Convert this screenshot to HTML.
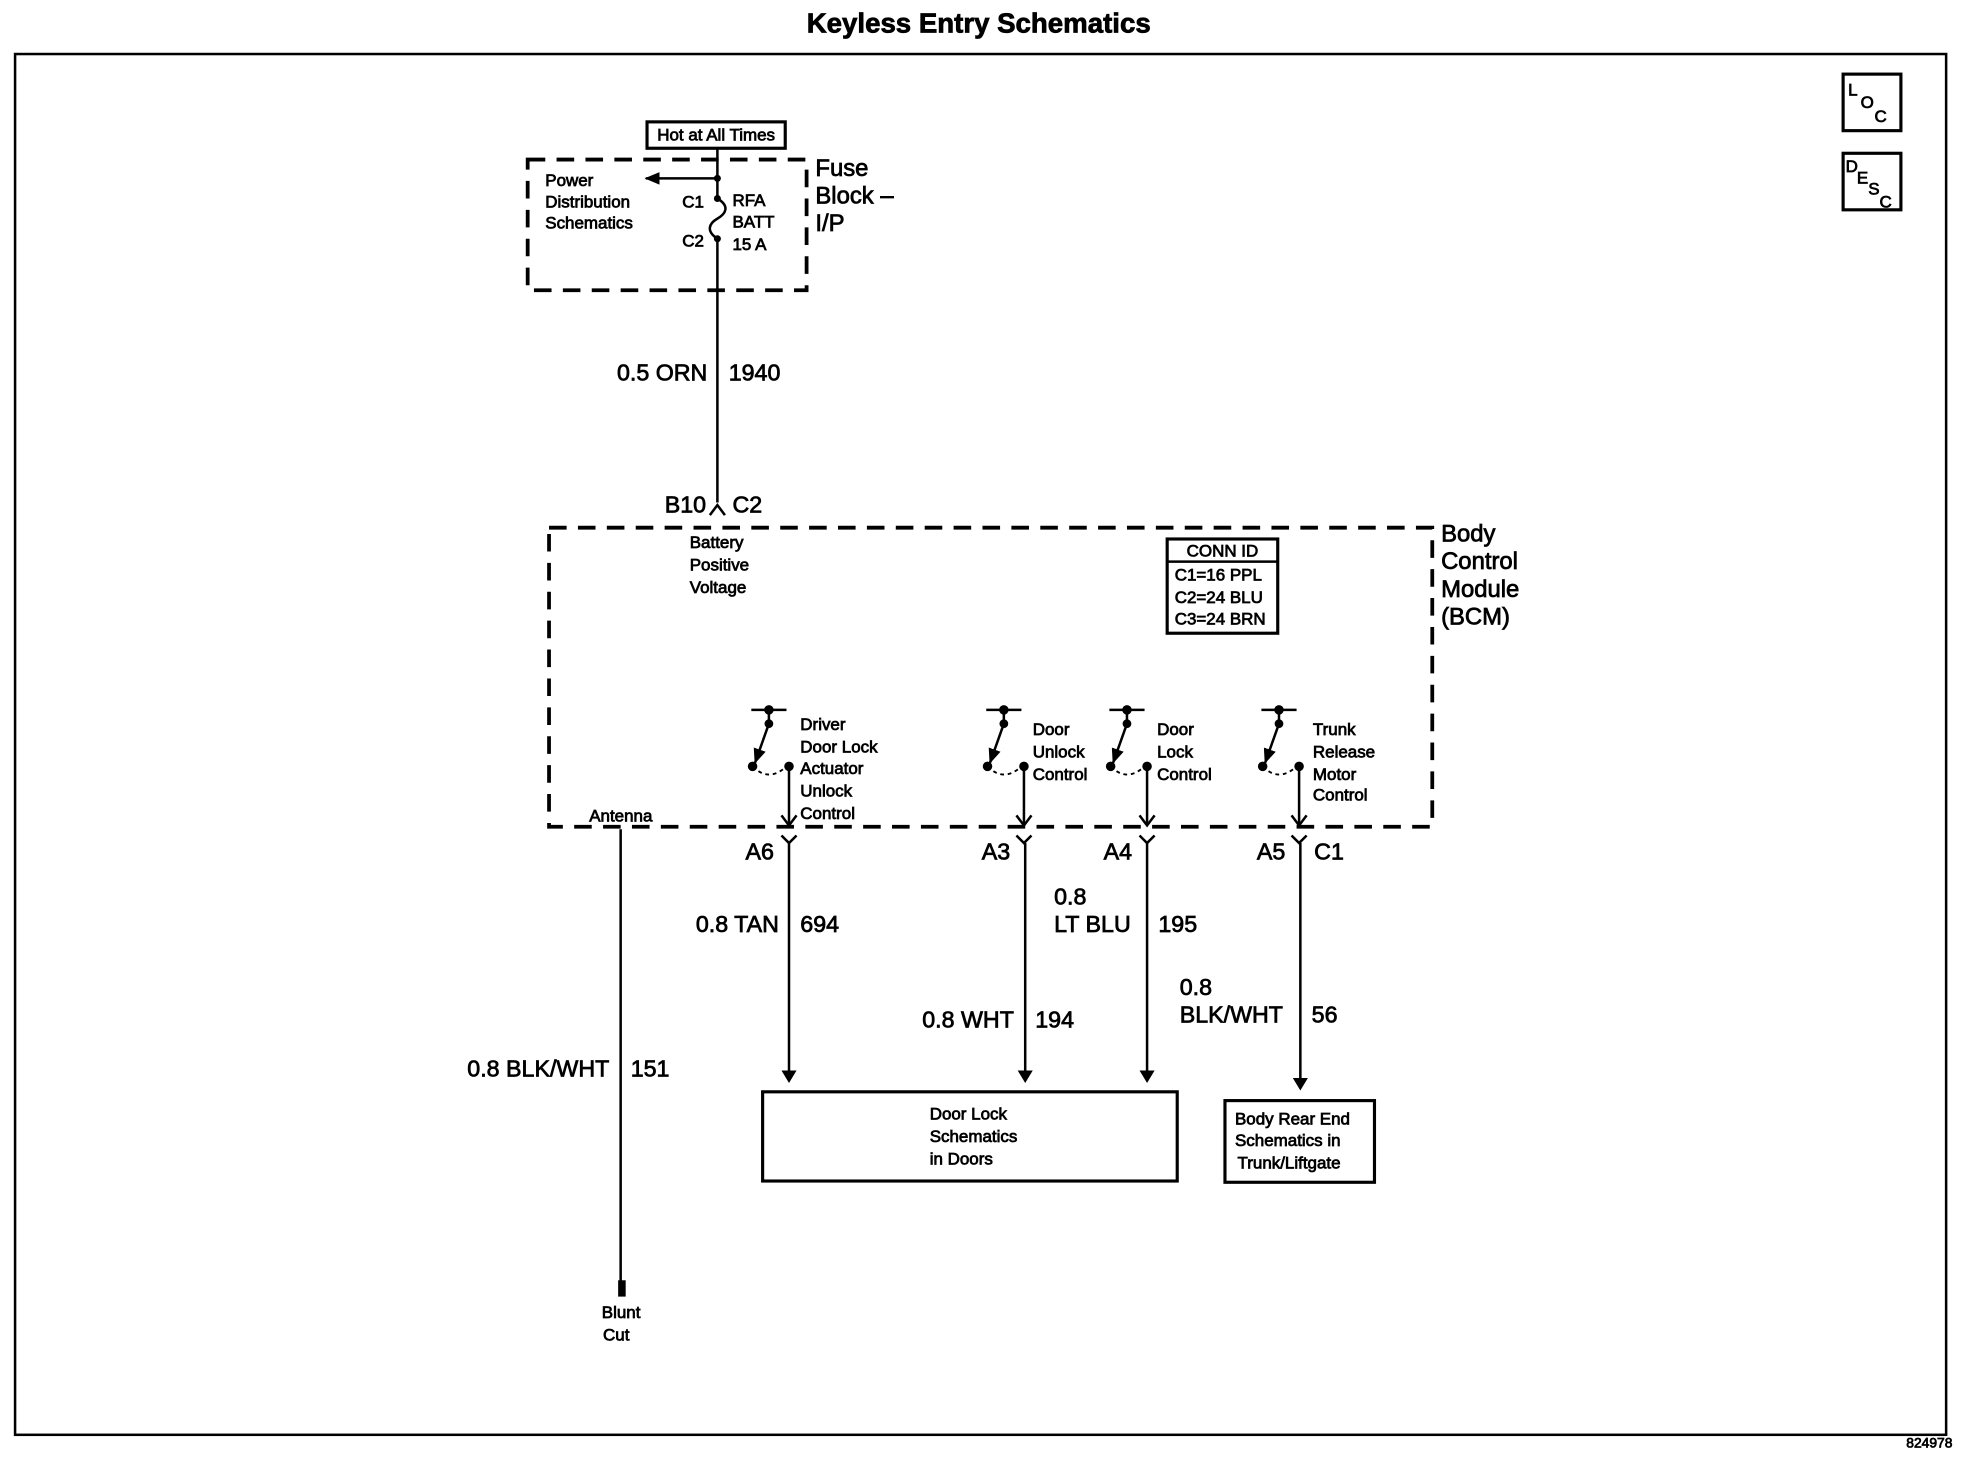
<!DOCTYPE html>
<html><head><meta charset="utf-8"><style>
html,body{margin:0;padding:0;background:#fff;}
svg{display:block;}
text{font-family:"Liberation Sans",Arial,sans-serif;fill:#000;stroke:#000;stroke-width:0.6;}
.s{font-size:13.5px;}
.w{font-size:18.5px;}
.b{font-size:19px;}
</style></head><body>
<svg width="1970" height="1472" viewBox="0 0 1568 1171.6" preserveAspectRatio="none" xmlns="http://www.w3.org/2000/svg">
<defs>
<marker id="ah" markerWidth="12" markerHeight="10" refX="11" refY="5" orient="auto" markerUnits="userSpaceOnUse">
<path d="M0,0 L12,5 L0,10 Z" fill="#000"/></marker>
<g id="sw" fill="none" stroke="#000" stroke-width="2">
<line x1="-30" y1="0" x2="-2" y2="0"/>
<line x1="-16" y1="0" x2="-16" y2="11"/>
<line x1="-16" y1="11" x2="-27" y2="42" marker-end="url(#ah)" stroke-width="2"/>
<circle cx="-16" cy="0" r="2.8" fill="#000"/>
<circle cx="-16" cy="11" r="2.5" fill="#000"/>
<circle cx="-29" cy="45" r="2.8" fill="#000"/>
<path d="M-29,45 Q-16,58 -2,45" stroke-dasharray="3,3" stroke-width="1.5"/>
<circle cx="0" cy="45" r="2.8" fill="#000"/>
<line x1="0" y1="45" x2="0" y2="92"/>
<polyline points="-6,84 0,92 6,84"/>
<polyline points="-6,100 0,106 6,100"/>
</g>
</defs>
<text x="779" y="26" text-anchor="middle" style="font-size:22px;font-weight:bold">Keyless Entry Schematics</text>
<rect x="12" y="43" width="1537" height="1099" fill="none" stroke="#000" stroke-width="2"/>
<text x="1554" y="1152" text-anchor="end" style="font-size:11px">824978</text>
<rect x="1467" y="59" width="46" height="45" fill="none" stroke="#000" stroke-width="2.5"/>
<text x="1471" y="76" class="s">L</text><text x="1481" y="86" class="s">O</text><text x="1492" y="97" class="s">C</text>
<rect x="1467" y="122" width="46" height="45" fill="none" stroke="#000" stroke-width="2.5"/>
<text x="1469" y="137" class="s">D</text><text x="1478" y="146" class="s">E</text><text x="1487" y="155" class="s">S</text><text x="1496" y="165" class="s">C</text>
<rect x="515" y="97" width="110" height="21" fill="none" stroke="#000" stroke-width="2.5"/>
<text x="570" y="112" text-anchor="middle" class="s">Hot at All Times</text>
<rect x="420" y="127" width="222" height="104" fill="none" stroke="#000" stroke-width="3" stroke-dasharray="14,9"/>
<text x="649" y="140" class="b">Fuse</text><text x="649" y="162" class="b">Block –</text><text x="649" y="184" class="b">I/P</text>
<text x="434" y="148" class="s">Power</text><text x="434" y="165" class="s">Distribution</text><text x="434" y="182" class="s">Schematics</text>
<text x="543" y="165" class="s">C1</text><text x="543" y="196" class="s">C2</text>
<text x="583" y="164" class="s">RFA</text><text x="583" y="181" class="s">BATT</text><text x="583" y="199" class="s">15 A</text>
<g fill="none" stroke="#000" stroke-width="2">
<line x1="571" y1="118" x2="571" y2="158"/>
<line x1="571" y1="142" x2="514" y2="142" marker-end="url(#ah)"/>
<path d="M571,158 C581,164 578,170 571,174 C564,178 562,184 571,190"/>
<line x1="571" y1="190" x2="571" y2="400"/>
<polyline points="565,410 571,402 577,410"/>
</g>
<circle cx="571" cy="142" r="2.8"/><circle cx="571" cy="158" r="2.8"/><circle cx="571" cy="190" r="2.8"/>
<text x="563" y="303" text-anchor="end" class="w">0.5 ORN</text><text x="580" y="303" class="w">1940</text>
<text x="562" y="408" text-anchor="end" class="w">B10</text><text x="583" y="408" class="w">C2</text>
<rect x="437" y="420" width="703" height="238" fill="none" stroke="#000" stroke-width="3" stroke-dasharray="14,9"/>
<text x="1147" y="431" class="b">Body</text><text x="1147" y="453" class="b">Control</text><text x="1147" y="475" class="b">Module</text><text x="1147" y="497" class="b">(BCM)</text>
<text x="549" y="436" class="s">Battery</text><text x="549" y="454" class="s">Positive</text><text x="549" y="472" class="s">Voltage</text>
<rect x="929" y="429" width="88" height="75" fill="none" stroke="#000" stroke-width="2.5"/>
<line x1="929" y1="447" x2="1017" y2="447" stroke="#000" stroke-width="2"/>
<text x="973" y="443" text-anchor="middle" class="s">CONN ID</text>
<text x="935" y="462" class="s">C1=16 PPL</text><text x="935" y="480" class="s">C2=24 BLU</text><text x="935" y="497" class="s">C3=24 BRN</text>
<text x="469" y="654" class="s">Antenna</text>
<use href="#sw" x="628" y="565"/>
<use href="#sw" x="815" y="565"/>
<use href="#sw" x="913" y="565"/>
<use href="#sw" x="1034" y="565"/>
<text x="637" y="581" class="s">Driver</text><text x="637" y="599" class="s">Door Lock</text><text x="637" y="616" class="s">Actuator</text><text x="637" y="634" class="s">Unlock</text><text x="637" y="652" class="s">Control</text>
<text x="822" y="585" class="s">Door</text><text x="822" y="603" class="s">Unlock</text><text x="822" y="621" class="s">Control</text>
<text x="921" y="585" class="s">Door</text><text x="921" y="603" class="s">Lock</text><text x="921" y="621" class="s">Control</text>
<text x="1045" y="585" class="s">Trunk</text><text x="1045" y="603" class="s">Release</text><text x="1045" y="621" class="s">Motor</text><text x="1045" y="637" class="s">Control</text>
<text x="616" y="684" text-anchor="end" class="w">A6</text>
<text x="804" y="684" text-anchor="end" class="w">A3</text>
<text x="901" y="684" text-anchor="end" class="w">A4</text>
<text x="1023" y="684" text-anchor="end" class="w">A5</text><text x="1046" y="684" class="w">C1</text>
<g stroke="#000" stroke-width="2">
<line x1="628" y1="671" x2="628" y2="852"/>
<line x1="816" y1="671" x2="816" y2="852"/>
<line x1="913" y1="671" x2="913" y2="852"/>
<line x1="1035" y1="671" x2="1035" y2="858"/>
<line x1="494" y1="660" x2="494" y2="1020"/>
</g>
<path d="M622,852 L634,852 L628,862 Z"/><path d="M810,852 L822,852 L816,862 Z"/><path d="M907,852 L919,852 L913,862 Z"/><path d="M1029,858 L1041,858 L1035,868 Z"/>
<rect x="492" y="1019" width="6" height="13"/>
<text x="479" y="1049" class="s">Blunt</text><text x="480" y="1067" class="s">Cut</text>
<text x="620" y="742" text-anchor="end" class="w">0.8 TAN</text><text x="637" y="742" class="w">694</text>
<text x="807" y="818" text-anchor="end" class="w">0.8 WHT</text><text x="824" y="818" class="w">194</text>
<text x="839" y="720" class="w">0.8</text><text x="839" y="742" class="w">LT BLU</text><text x="922" y="742" class="w">195</text>
<text x="939" y="792" class="w">0.8</text><text x="939" y="814" class="w">BLK/WHT</text><text x="1044" y="814" class="w">56</text>
<text x="485" y="857" text-anchor="end" class="w">0.8 BLK/WHT</text><text x="502" y="857" class="w">151</text>
<rect x="607" y="869" width="330" height="71" fill="none" stroke="#000" stroke-width="2.5"/>
<text x="740" y="891" class="s">Door Lock</text><text x="740" y="909" class="s">Schematics</text><text x="740" y="927" class="s">in Doors</text>
<rect x="975" y="876" width="119" height="65" fill="none" stroke="#000" stroke-width="2.5"/>
<text x="983" y="895" class="s">Body Rear End</text><text x="983" y="912" class="s">Schematics in</text><text x="985" y="930" class="s">Trunk/Liftgate</text>
</svg>
</body></html>
